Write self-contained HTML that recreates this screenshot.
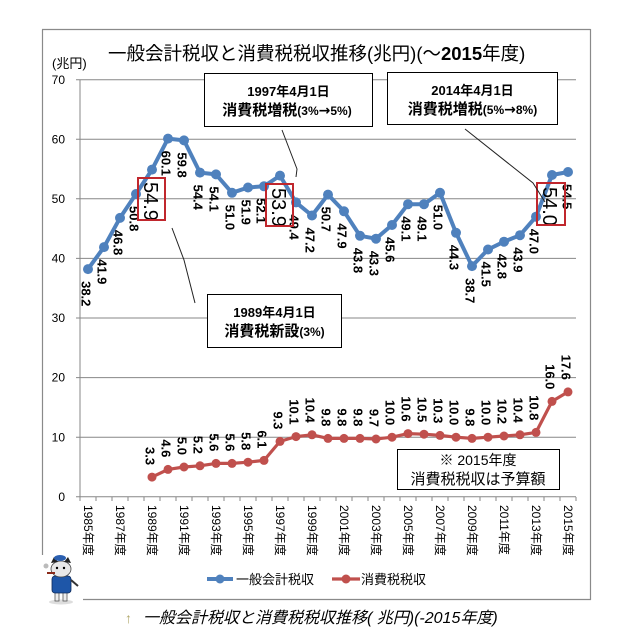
<!DOCTYPE html>
<html><head><meta charset="utf-8">
<style>
html,body{margin:0;padding:0;background:#fff;}
svg{display:block;}
.jp{font-family:"Liberation Sans","Noto Sans CJK JP",sans-serif;}
.bl{font-family:"Liberation Sans","Noto Sans CJK JP",sans-serif;font-weight:bold;font-size:13px;fill:#000;}
.big{font-family:"Liberation Sans",sans-serif;font-size:20px;fill:#000;}
.xl{font-family:"Liberation Sans","Noto Sans CJK JP",sans-serif;font-size:12px;fill:#000;}
</style></head>
<body>
<svg width="630" height="640" viewBox="0 0 630 640" xmlns="http://www.w3.org/2000/svg">
<rect width="630" height="640" fill="#fff"/>
<g stroke="#8a8a8a" stroke-width="1.2" fill="none">
<line x1="42.5" y1="29.5" x2="42.5" y2="555"/>
<line x1="42" y1="29.5" x2="590.5" y2="29.5"/>
<line x1="590.5" y1="29" x2="590.5" y2="600"/>
<line x1="83" y1="599.5" x2="591" y2="599.5"/>
</g>
<text x="108" y="60" class="jp" font-size="18.5" fill="#000">一般会計税収と消費税税収推移(兆円)(～<tspan font-weight="bold">2015</tspan>年度)</text>
<text x="52" y="68" class="jp" font-size="13" fill="#000">(兆円)</text>
<g stroke="#878787" stroke-width="1">
<line x1="76" y1="79.8" x2="576" y2="79.8"/>
<line x1="76" y1="139.2" x2="576" y2="139.2"/>
<line x1="76" y1="198.8" x2="576" y2="198.8"/>
<line x1="76" y1="258.4" x2="576" y2="258.4"/>
<line x1="76" y1="318.0" x2="576" y2="318.0"/>
<line x1="76" y1="377.6" x2="576" y2="377.6"/>
<line x1="76" y1="437.2" x2="576" y2="437.2"/>
<line x1="76" y1="496.8" x2="576" y2="496.8"/>
<line x1="80" y1="79.8" x2="80" y2="496.8"/>
</g>
<g stroke="#878787" stroke-width="1">
<line x1="80" y1="497" x2="80" y2="501"/><line x1="96" y1="497" x2="96" y2="501"/><line x1="112" y1="497" x2="112" y2="501"/><line x1="128" y1="497" x2="128" y2="501"/><line x1="144" y1="497" x2="144" y2="501"/><line x1="160" y1="497" x2="160" y2="501"/><line x1="176" y1="497" x2="176" y2="501"/><line x1="192" y1="497" x2="192" y2="501"/><line x1="208" y1="497" x2="208" y2="501"/><line x1="224" y1="497" x2="224" y2="501"/><line x1="240" y1="497" x2="240" y2="501"/><line x1="256" y1="497" x2="256" y2="501"/><line x1="272" y1="497" x2="272" y2="501"/><line x1="288" y1="497" x2="288" y2="501"/><line x1="304" y1="497" x2="304" y2="501"/><line x1="320" y1="497" x2="320" y2="501"/><line x1="336" y1="497" x2="336" y2="501"/><line x1="352" y1="497" x2="352" y2="501"/><line x1="368" y1="497" x2="368" y2="501"/><line x1="384" y1="497" x2="384" y2="501"/><line x1="400" y1="497" x2="400" y2="501"/><line x1="416" y1="497" x2="416" y2="501"/><line x1="432" y1="497" x2="432" y2="501"/><line x1="448" y1="497" x2="448" y2="501"/><line x1="464" y1="497" x2="464" y2="501"/><line x1="480" y1="497" x2="480" y2="501"/><line x1="496" y1="497" x2="496" y2="501"/><line x1="512" y1="497" x2="512" y2="501"/><line x1="528" y1="497" x2="528" y2="501"/><line x1="544" y1="497" x2="544" y2="501"/><line x1="560" y1="497" x2="560" y2="501"/><line x1="576" y1="497" x2="576" y2="501"/>
</g>
<g class="jp" font-size="12" fill="#000" text-anchor="end">
<text x="65" y="84">70</text>
<text x="65" y="143.5">60</text>
<text x="65" y="203">50</text>
<text x="65" y="262.5">40</text>
<text x="65" y="322">30</text>
<text x="65" y="381.5">20</text>
<text x="65" y="441.5">10</text>
<text x="65" y="501">0</text>
</g>
<g class="xl">
<text transform="translate(88,505) rotate(90)" dy="0.35em">1985年度</text>
<text transform="translate(120,505) rotate(90)" dy="0.35em">1987年度</text>
<text transform="translate(152,505) rotate(90)" dy="0.35em">1989年度</text>
<text transform="translate(184,505) rotate(90)" dy="0.35em">1991年度</text>
<text transform="translate(216,505) rotate(90)" dy="0.35em">1993年度</text>
<text transform="translate(248,505) rotate(90)" dy="0.35em">1995年度</text>
<text transform="translate(280,505) rotate(90)" dy="0.35em">1997年度</text>
<text transform="translate(312,505) rotate(90)" dy="0.35em">1999年度</text>
<text transform="translate(344,505) rotate(90)" dy="0.35em">2001年度</text>
<text transform="translate(376,505) rotate(90)" dy="0.35em">2003年度</text>
<text transform="translate(408,505) rotate(90)" dy="0.35em">2005年度</text>
<text transform="translate(440,505) rotate(90)" dy="0.35em">2007年度</text>
<text transform="translate(472,505) rotate(90)" dy="0.35em">2009年度</text>
<text transform="translate(504,505) rotate(90)" dy="0.35em">2011年度</text>
<text transform="translate(536,505) rotate(90)" dy="0.35em">2013年度</text>
<text transform="translate(568,505) rotate(90)" dy="0.35em">2015年度</text>
</g>
<polyline fill="none" stroke="#4F81BD" stroke-width="4" stroke-linejoin="round" points="88,269.1 104,247.1 120,217.9 136,194.0 152,169.6 168,138.6 184,140.4 200,172.6 216,174.4 232,192.8 248,187.5 264,186.3 280,175.6 296,202.4 312,215.5 328,194.6 344,211.3 360,235.8 376,238.7 392,225.0 408,204.2 424,204.2 440,192.8 456,232.8 472,266.1 488,249.5 504,241.7 520,235.2 536,216.7 552,175.0 568,172.0"/>
<g fill="#4F81BD">
<circle cx="88" cy="269.1" r="5"/><circle cx="104" cy="247.1" r="5"/><circle cx="120" cy="217.9" r="5"/><circle cx="136" cy="194.0" r="5"/><circle cx="152" cy="169.6" r="5"/><circle cx="168" cy="138.6" r="5"/><circle cx="184" cy="140.4" r="5"/><circle cx="200" cy="172.6" r="5"/><circle cx="216" cy="174.4" r="5"/><circle cx="232" cy="192.8" r="5"/><circle cx="248" cy="187.5" r="5"/><circle cx="264" cy="186.3" r="5"/><circle cx="280" cy="175.6" r="5"/><circle cx="296" cy="202.4" r="5"/><circle cx="312" cy="215.5" r="5"/><circle cx="328" cy="194.6" r="5"/><circle cx="344" cy="211.3" r="5"/><circle cx="360" cy="235.8" r="5"/><circle cx="376" cy="238.7" r="5"/><circle cx="392" cy="225.0" r="5"/><circle cx="408" cy="204.2" r="5"/><circle cx="424" cy="204.2" r="5"/><circle cx="440" cy="192.8" r="5"/><circle cx="456" cy="232.8" r="5"/><circle cx="472" cy="266.1" r="5"/><circle cx="488" cy="249.5" r="5"/><circle cx="504" cy="241.7" r="5"/><circle cx="520" cy="235.2" r="5"/><circle cx="536" cy="216.7" r="5"/><circle cx="552" cy="175.0" r="5"/><circle cx="568" cy="172.0" r="5"/>
</g>
<polyline fill="none" stroke="#C0504D" stroke-width="3.2" stroke-linejoin="round" points="152,477.1 168,469.4 184,467.0 200,465.8 216,463.4 232,463.4 248,462.2 264,460.4 280,441.4 296,436.6 312,434.8 328,438.4 344,438.4 360,438.4 376,439.0 392,437.2 408,433.6 424,434.2 440,435.4 456,437.2 472,438.4 488,437.2 504,436.0 520,434.8 536,432.4 552,401.4 568,391.9"/>
<g fill="#C0504D">
<circle cx="152" cy="477.1" r="4.5"/><circle cx="168" cy="469.4" r="4.5"/><circle cx="184" cy="467.0" r="4.5"/><circle cx="200" cy="465.8" r="4.5"/><circle cx="216" cy="463.4" r="4.5"/><circle cx="232" cy="463.4" r="4.5"/><circle cx="248" cy="462.2" r="4.5"/><circle cx="264" cy="460.4" r="4.5"/><circle cx="280" cy="441.4" r="4.5"/><circle cx="296" cy="436.6" r="4.5"/><circle cx="312" cy="434.8" r="4.5"/><circle cx="328" cy="438.4" r="4.5"/><circle cx="344" cy="438.4" r="4.5"/><circle cx="360" cy="438.4" r="4.5"/><circle cx="376" cy="439.0" r="4.5"/><circle cx="392" cy="437.2" r="4.5"/><circle cx="408" cy="433.6" r="4.5"/><circle cx="424" cy="434.2" r="4.5"/><circle cx="440" cy="435.4" r="4.5"/><circle cx="456" cy="437.2" r="4.5"/><circle cx="472" cy="438.4" r="4.5"/><circle cx="488" cy="437.2" r="4.5"/><circle cx="504" cy="436.0" r="4.5"/><circle cx="520" cy="434.8" r="4.5"/><circle cx="536" cy="432.4" r="4.5"/><circle cx="552" cy="401.4" r="4.5"/><circle cx="568" cy="391.9" r="4.5"/>
</g>
<g class="bl">
<text transform="translate(86,281.1) rotate(90)" dy="0.35em">38.2</text>
<text transform="translate(102,259.1) rotate(90)" dy="0.35em">41.9</text>
<text transform="translate(118,229.9) rotate(90)" dy="0.35em">46.8</text>
<text transform="translate(134,206.0) rotate(90)" dy="0.35em">50.8</text>
<text transform="translate(166,150.6) rotate(90)" dy="0.35em">60.1</text>
<text transform="translate(182,152.4) rotate(90)" dy="0.35em">59.8</text>
<text transform="translate(198,184.6) rotate(90)" dy="0.35em">54.4</text>
<text transform="translate(214,186.4) rotate(90)" dy="0.35em">54.1</text>
<text transform="translate(230,204.8) rotate(90)" dy="0.35em">51.0</text>
<text transform="translate(246,199.5) rotate(90)" dy="0.35em">51.9</text>
<text transform="translate(261,198.3) rotate(90)" dy="0.35em">52.1</text>
<text transform="translate(294,214.4) rotate(90)" dy="0.35em">49.4</text>
<text transform="translate(310,227.5) rotate(90)" dy="0.35em">47.2</text>
<text transform="translate(326,206.6) rotate(90)" dy="0.35em">50.7</text>
<text transform="translate(342,223.3) rotate(90)" dy="0.35em">47.9</text>
<text transform="translate(358,247.8) rotate(90)" dy="0.35em">43.8</text>
<text transform="translate(374,250.7) rotate(90)" dy="0.35em">43.3</text>
<text transform="translate(390,237.0) rotate(90)" dy="0.35em">45.6</text>
<text transform="translate(406,216.2) rotate(90)" dy="0.35em">49.1</text>
<text transform="translate(422,216.2) rotate(90)" dy="0.35em">49.1</text>
<text transform="translate(438,204.8) rotate(90)" dy="0.35em">51.0</text>
<text transform="translate(454,244.8) rotate(90)" dy="0.35em">44.3</text>
<text transform="translate(470,278.1) rotate(90)" dy="0.35em">38.7</text>
<text transform="translate(486,261.5) rotate(90)" dy="0.35em">41.5</text>
<text transform="translate(502,253.7) rotate(90)" dy="0.35em">42.8</text>
<text transform="translate(518,247.2) rotate(90)" dy="0.35em">43.9</text>
<text transform="translate(534,228.7) rotate(90)" dy="0.35em">47.0</text>
<text transform="translate(567,184) rotate(90)" dy="0.35em">54.5</text>
</g>
<g class="big">
<text transform="translate(151,182) rotate(90)" dy="0.35em">54.9</text>
<text transform="translate(279,188) rotate(90)" dy="0.35em">53.9</text>
<text transform="translate(550,187) rotate(90)" dy="0.35em">54.0</text>
</g>
<g class="bl" text-anchor="end">
<text transform="translate(150,465.1) rotate(90)" dy="0.35em">3.3</text>
<text transform="translate(166,457.4) rotate(90)" dy="0.35em">4.6</text>
<text transform="translate(182,455.0) rotate(90)" dy="0.35em">5.0</text>
<text transform="translate(198,453.8) rotate(90)" dy="0.35em">5.2</text>
<text transform="translate(214,451.4) rotate(90)" dy="0.35em">5.6</text>
<text transform="translate(230,451.4) rotate(90)" dy="0.35em">5.6</text>
<text transform="translate(246,450.2) rotate(90)" dy="0.35em">5.8</text>
<text transform="translate(262,448.4) rotate(90)" dy="0.35em">6.1</text>
<text transform="translate(278,429.4) rotate(90)" dy="0.35em">9.3</text>
<text transform="translate(294,424.6) rotate(90)" dy="0.35em">10.1</text>
<text transform="translate(310,422.8) rotate(90)" dy="0.35em">10.4</text>
<text transform="translate(326,426.4) rotate(90)" dy="0.35em">9.8</text>
<text transform="translate(342,426.4) rotate(90)" dy="0.35em">9.8</text>
<text transform="translate(358,426.4) rotate(90)" dy="0.35em">9.8</text>
<text transform="translate(374,427.0) rotate(90)" dy="0.35em">9.7</text>
<text transform="translate(390,425.2) rotate(90)" dy="0.35em">10.0</text>
<text transform="translate(406,421.6) rotate(90)" dy="0.35em">10.6</text>
<text transform="translate(422,422.2) rotate(90)" dy="0.35em">10.5</text>
<text transform="translate(438,423.4) rotate(90)" dy="0.35em">10.3</text>
<text transform="translate(454,425.2) rotate(90)" dy="0.35em">10.0</text>
<text transform="translate(470,426.4) rotate(90)" dy="0.35em">9.8</text>
<text transform="translate(486,425.2) rotate(90)" dy="0.35em">10.0</text>
<text transform="translate(502,424.0) rotate(90)" dy="0.35em">10.2</text>
<text transform="translate(518,422.8) rotate(90)" dy="0.35em">10.4</text>
<text transform="translate(534,420.4) rotate(90)" dy="0.35em">10.8</text>
<text transform="translate(550,389.4) rotate(90)" dy="0.35em">16.0</text>
<text transform="translate(566,379.9) rotate(90)" dy="0.35em">17.6</text>
</g>
<g fill="none" stroke="#C0272D" stroke-width="2">
<rect x="138" y="178" width="27" height="42"/>
<rect x="266" y="184" width="27" height="42"/>
<rect x="537" y="183" width="28" height="42"/>
</g>
<g fill="none" stroke="#222" stroke-width="1">
<polyline points="282,130 297,169 296,177"/>
<polyline points="172,228 184,260 195,303"/>
<polyline points="465,129 533,183 545,202"/>
</g>
<g fill="#fff" stroke="#000" stroke-width="1">
<rect x="204.5" y="73.5" width="168" height="53"/>
<rect x="387.5" y="72.5" width="170" height="52"/>
<rect x="207.5" y="294.5" width="134" height="53"/>
<rect x="397.5" y="449.5" width="162" height="40"/>
</g>
<g class="jp" font-weight="bold" fill="#000" text-anchor="middle">
<text x="288.5" y="96" font-size="13">1997年4月1日</text>
<text x="287" y="115" font-size="15">消費税増税<tspan font-size="12">(3%</tspan><tspan font-size="14" font-family="DejaVu Sans, sans-serif">→</tspan><tspan font-size="12">5%)</tspan></text>
<text x="472.5" y="95" font-size="13">2014年4月1日</text>
<text x="472.5" y="114" font-size="15">消費税増税<tspan font-size="12">(5%</tspan><tspan font-size="14" font-family="DejaVu Sans, sans-serif">→</tspan><tspan font-size="12">8%)</tspan></text>
<text x="274.5" y="317" font-size="13">1989年4月1日</text>
<text x="274.5" y="336" font-size="15">消費税新設<tspan font-size="12">(3%)</tspan></text>
</g>
<g class="jp" fill="#000" text-anchor="middle">
<text x="478" y="465" font-size="14">※ 2015年度</text>
<text x="478" y="484" font-size="15">消費税税収は予算額</text>
</g>
<line x1="207" y1="579" x2="233" y2="579" stroke="#4F81BD" stroke-width="4"/>
<circle cx="220" cy="579" r="4.5" fill="#4F81BD"/>
<text x="236" y="584" class="jp" font-size="13" fill="#000">一般会計税収</text>
<line x1="332" y1="579" x2="360" y2="579" stroke="#C0504D" stroke-width="3.2"/>
<circle cx="346" cy="579" r="4.5" fill="#C0504D"/>
<text x="361" y="584" class="jp" font-size="13" fill="#000">消費税税収</text>
<g>
<ellipse cx="61" cy="602" rx="12" ry="2.5" fill="#ddd"/>
<rect x="55" y="590" width="4" height="11" fill="#eee" stroke="#555" stroke-width="0.8"/>
<rect x="63" y="590" width="4" height="11" fill="#eee" stroke="#555" stroke-width="0.8"/>
<rect x="52" y="576" width="19" height="17" rx="3" fill="#1e56a8" stroke="#0d2a5a" stroke-width="0.8"/>
<ellipse cx="61" cy="569" rx="10" ry="8" fill="#e8e8e8" stroke="#444" stroke-width="0.8"/>
<path d="M51 563 L54 557 L58 562 Z" fill="#222"/>
<path d="M71 563 L68 557 L64 562 Z" fill="#222"/>
<ellipse cx="60" cy="558" rx="6" ry="3" fill="#2a5fb0"/>
<circle cx="57" cy="568" r="1.2" fill="#000"/>
<circle cx="64" cy="568" r="1.2" fill="#000"/>
<line x1="47" y1="573" x2="55" y2="573" stroke="#8b2b1a" stroke-width="2"/>
<circle cx="46" cy="566" r="2.5" fill="#bbb"/>
<line x1="71" y1="580" x2="78" y2="586" stroke="#333" stroke-width="2"/>
</g>
<text x="125" y="623" font-size="14" fill="#b0a86a" class="jp">↑</text>
<text x="143" y="623" class="jp" font-size="16" font-style="italic" fill="#000">一般会計税収と消費税税収推移( 兆円)(-2015年度)</text>
</svg>
</body></html>
